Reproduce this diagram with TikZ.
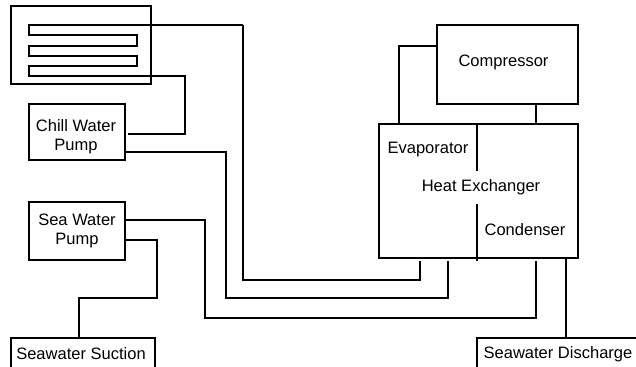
\documentclass[tikz,border=0pt]{standalone}
\usepackage{fontspec}
\setmainfont{Liberation Sans}
\tikzset{
  unitbox/.style={draw, line width=0.85pt, inner sep=0pt},
  pipe/.style={draw, line width=0.85pt},
  tag/.style={align=center, inner sep=0pt, font=\fontsize{9.4}{10.8}\selectfont}
}
\begin{document}
\begin{tikzpicture}[x=0.02cm, y=-0.02cm]
\useasboundingbox (0,0) rectangle (636,366);

\node[unitbox, minimum width=2.8cm, minimum height=1.56cm] (tank) at (81,45) {};
\node[unitbox, minimum width=1.92cm, minimum height=1.12cm] (chillpump) at (77,132) {};
\node[unitbox, minimum width=1.92cm, minimum height=1.16cm] (seapump) at (77,231) {};
\node[unitbox, minimum width=2.88cm, minimum height=0.8cm] (suction) at (83,358) {};
\node[unitbox, minimum width=3.4cm, minimum height=0.8cm] (discharge) at (562,358) {};
\node[unitbox, minimum width=2.82cm, minimum height=1.58cm] (compressor) at (507.5,64.5) {};
\node[unitbox, minimum width=3.98cm, minimum height=2.68cm] (exchanger) at (478.5,191) {};

\node[tag] (chilllabel) at (76,136.5) {Chill Water\\Pump};
\node[tag] (sealabel) at (77,231) {Sea Water\\Pump};
\node[tag] (suctionlabel) at (81,354) {Seawater Suction};
\node[tag] (dischargelabel) at (558,354) {Seawater Discharge};
\node[tag] (compressorlabel) at (503.5,62) {Compressor};
\node[tag] (evaporator) at (428,150) {Evaporator};
\node[tag] (heatlabel) at (481,187) {Heat Exchanger};
\node[tag] (condenser) at (525,230) {Condenser};

\coordinate (coilin) at (243,25);
\coordinate (coilout) at (185,76);
\coordinate (chillreturn) at (128,134);
\coordinate (evapin) at (420,261);
\coordinate (evapout) at (448,261);
\coordinate (condin) at (536,261);
\coordinate (dividertop) at (477,171);
\coordinate (dividerbot) at (477,204);
\coordinate (dividerend) at (477,261);

% coil inside the tank
\draw[pipe] (coilin) -- (29,25) -- (29,35) -- (137,35) -- (137,46) -- (29,46) -- (29,56)
  -- (137,56) -- (137,66) -- (29,66) -- (29,76) -- (coilout) -- (185,134) -- (chillreturn);

\draw[pipe] (coilin) -- (243,280) -- (420,280) -- (evapin);
\draw[pipe] (chillpump.east |- 0,152) -- (226,152) -- (226,298) -- (448,298) -- (evapout);
\draw[pipe] (seapump.east |- 0,220) -- (205,220) -- (205,318) -- (536,318) -- (condin);
\draw[pipe] (seapump.east |- 0,240) -- (157,240) -- (157,298) -- (79,298) -- (79,338);
\draw[pipe] (compressor.west |- 0,46) -- (399,46) -- (399,124);
\draw[pipe] (536,104) -- (536,124);
\draw[pipe] (566,258) -- (566,338);
\draw[pipe] (477,124) -- (dividertop);
\draw[pipe] (dividerbot) -- (dividerend);
\end{tikzpicture}
\end{document}
